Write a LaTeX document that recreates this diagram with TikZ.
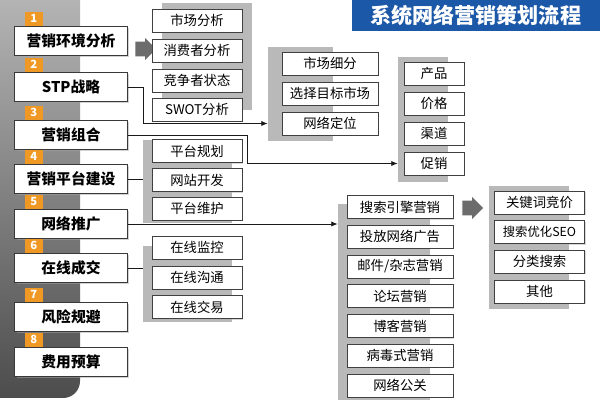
\documentclass[tikz,border=0pt]{standalone}
\usepackage{fontspec}
\setmainfont{Noto Sans CJK SC}
\usepackage{tikz}
\usetikzlibrary{arrows.meta,positioning,shapes.arrows,shadows}

\definecolor{badgeorange}{RGB}{240,152,36}
\definecolor{titleblue}{RGB}{28,88,168}

\begin{document}
\begin{tikzpicture}[
  x=0.025cm, y=-0.025cm,
  mainbox/.style={rectangle, draw=gray!45!black, fill=white, line width=0.7pt, minimum width=2.8cm, minimum height=0.72cm, inner sep=1pt, font=\bfseries\fontsize{10.5}{12}\selectfont, drop shadow={shadow xshift=1.2pt, shadow yshift=-1.2pt, fill=gray!70}},
  badge/.style={rectangle, fill=badgeorange, text=white, minimum width=0.45cm, minimum height=0.35cm, inner sep=0pt, font=\bfseries\fontsize{8}{9}\selectfont},
  item/.style={rectangle, draw=gray!50!black, fill=white, line width=0.5pt, minimum width=2.25cm, minimum height=0.57cm, inner sep=1pt, font=\fontsize{9.5}{11}\selectfont, drop shadow={shadow xshift=0.8pt, shadow yshift=-0.8pt, fill=gray!60}},
  panel/.style={rectangle, fill=gray!55, inner sep=0pt},
  bigarrow/.style={single arrow, fill=gray!85!black, minimum height=0.52cm, inner xsep=0pt, inner ysep=0.18cm, single arrow head extend=0.09cm},
  banner/.style={rectangle, fill=titleblue, text=white, minimum width=6.2cm, minimum height=0.78cm, inner sep=0pt, font=\bfseries\fontsize{15}{18}\selectfont},
  link/.style={-{Latex[length=1.6mm, width=1.3mm]}, line width=0.6pt, gray!20!black},
  wire/.style={line width=0.6pt, gray!20!black}
]
\useasboundingbox (0,0) rectangle (600,400);

% side strip
\shade[top color=gray!55, middle color=gray!80, bottom color=gray!60!black, rounded corners=12pt] (-20,-20) rectangle (80,398);

% title
\node[banner, anchor=north east] (title) at (600,0) {系统网络营销策划流程};

% panels behind the item columns
\node[panel, minimum width=2.25cm, minimum height=2.675cm] (envbg) at (207,56.5) {};
\node[panel, minimum width=1.625cm, minimum height=2.35cm] (stpbg) at (300.5,94) {};
\node[panel, minimum width=1.25cm, minimum height=3.125cm] (mixbg) at (423,119.5) {};
\node[panel, minimum width=2.225cm, minimum height=2.075cm] (platbg) at (187.5,181.5) {};
\node[panel, minimum width=2.3cm, minimum height=4.9cm] (promobg) at (384,302) {};
\node[panel, minimum width=2cm, minimum height=3.075cm] (sembg) at (529,247.5) {};
\node[panel, minimum width=2.225cm, minimum height=1.9cm] (dealbg) at (187.5,284) {};

% block arrows
\node[bigarrow] (envarrow) at (142,49) {};
\node[bigarrow] (semarrow) at (469,208) {};

% main steps
\node[mainbox] (env) at (71,41) {营销环境分析};
\node[mainbox] (stp) at (71,87) {STP战略};
\node[mainbox] (mix) at (71,135) {营销组合};
\node[mainbox] (plat) at (71,179) {营销平台建设};
\node[mainbox] (promo) at (71,224) {网络推广};
\node[mainbox] (deal) at (71,268) {在线成交};
\node[mainbox] (risk) at (71,317) {风险规避};
\node[mainbox] (budget) at (71,362) {费用预算};

% step numbers
\node[badge, above right=0pt and 0.25cm of env.north west] (n1) {1};
\node[badge, above right=0pt and 0.25cm of stp.north west] (n2) {2};
\node[badge, above right=0pt and 0.25cm of mix.north west] (n3) {3};
\node[badge, above right=0pt and 0.25cm of plat.north west] (n4) {4};
\node[badge, above right=0pt and 0.25cm of promo.north west] (n5) {5};
\node[badge, above right=0pt and 0.25cm of deal.north west] (n6) {6};
\node[badge, above right=0pt and 0.25cm of risk.north west] (n7) {7};
\node[badge, above right=0pt and 0.25cm of budget.north west] (n8) {8};

% environment analysis
\node[item] (market) at (197,20.5) {市场分析};
\node[item] (consumer) at (197,50.5) {消费者分析};
\node[item] (rival) at (197,80.5) {竞争者状态};
\node[item] (swot) at (197,109.5) {SWOT分析};

% STP
\node[item, minimum width=2.4cm] (seg) at (330,63.5) {市场细分};
\node[item, minimum width=2.4cm] (target) at (330,93.5) {选择目标市场};
\node[item, minimum width=2.4cm] (posn) at (330,123.5) {网络定位};

% marketing mix
\node[item, minimum width=1.5cm] (product) at (434,73.5) {产品};
\node[item, minimum width=1.5cm] (price) at (434,103.5) {价格};
\node[item, minimum width=1.5cm] (channel) at (434,133.5) {渠道};
\node[item, minimum width=1.5cm] (sales) at (434,163.5) {促销};

% platform
\node[item] (plan) at (197,151) {平台规划};
\node[item] (dev) at (197,180) {网站开发};
\node[item] (maint) at (197,208.5) {平台维护};

% promotion
\node[item, minimum width=2.65cm] (sem) at (400,207) {搜索引擎营销};
\node[item, minimum width=2.65cm] (ads) at (400,236.75) {投放网络广告};
\node[item, minimum width=2.65cm] (mail) at (400,266.5) {邮件/杂志营销};
\node[item, minimum width=2.65cm] (forum) at (400,296.25) {论坛营销};
\node[item, minimum width=2.65cm] (blog) at (400,326) {博客营销};
\node[item, minimum width=2.65cm] (viral) at (400,355.75) {病毒式营销};
\node[item, minimum width=2.65cm] (pr) at (400,385.5) {网络公关};

% search engine
\node[item] (bid) at (539.5,202.5) {关键词竞价};
\node[item, font=\fontsize{8.8}{10}\selectfont] (seo) at (539.5,232) {搜索优化SEO};
\node[item] (dir) at (539.5,261.5) {分类搜索};
\node[item] (other) at (539.5,291.5) {其他};

% online deal
\node[item] (watch) at (197,247.5) {在线监控};
\node[item] (talk) at (197,277.5) {在线沟通};
\node[item] (trade) at (197,307) {在线交易};

% connectors
\draw[link] (stp.east) -- ++(16,0) |- (stpbg.west |- posn);
\draw[link] (mix.east) -- ++(120,0) |- (mixbg.west |- sales);
\draw[wire] (plat.east) -- (platbg.west |- plat.east);
\draw[link] (promo.east) -- (promobg.west |- promo.east);
\draw[wire] (deal.east) -- (dealbg.west |- deal.east);

\end{tikzpicture}
\end{document}
